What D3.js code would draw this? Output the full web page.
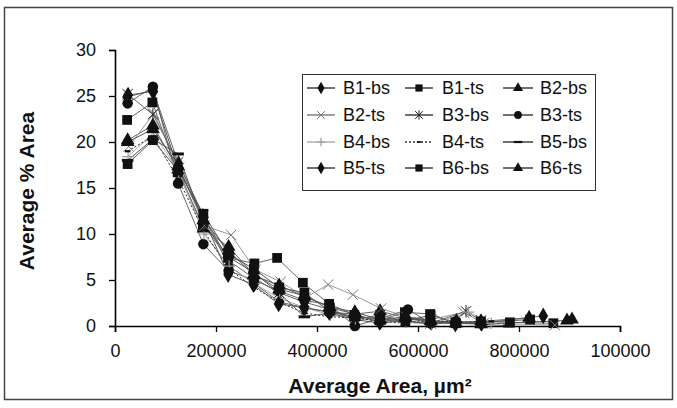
<!DOCTYPE html>
<html>
<head>
<meta charset="utf-8">
<script src="https://cdn.jsdelivr.net/npm/d3@7"></script>
<style>
  body { margin: 0; background: #fff; }
  svg { display: block; font-family: "Liberation Sans", Arial, sans-serif; }
</style>
</head>
<body>
<svg id="chart" width="677" height="408"></svg>
<script>
// ---- data ----
const seriesNames = ["B1-bs","B1-ts","B2-bs","B2-ts","B3-bs","B3-ts","B4-bs","B4-ts","B5-bs","B5-ts","B6-bs","B6-ts"];

const B1_bs_x = [26000,76000,126000,176000,226000,276000,326000,376000,426000,476000,526000,576000,626000,676000,726000,848000];
const B1_bs_y = [25.1,25.5,17.6,11.8,6.5,4.6,2.6,2.0,1.5,0.9,0.5,0.8,0.4,0.5,0.3,1.1];
const B1_ts_x = [24000,74000,124000,174000,224000,276000,321000,372000,424000,474000,524000,574000,624000,674000,724000,782000,868000];
const B1_ts_y = [22.4,24.3,16.7,11.0,7.4,6.8,7.4,4.7,2.4,1.2,0.6,1.5,1.3,0.4,0.5,0.4,0.3];
const B2_bs_x = [25000,75000,125000,175000,225000,275000,325000,375000,425000,475000,525000,575000,625000,675000,725000,820000];
const B2_bs_y = [20.2,21.8,17.0,10.6,8.6,5.6,4.0,3.3,2.0,1.3,1.6,0.9,0.6,0.3,0.5,0.9];
const B2_ts_x = [27000,77000,127000,177000,230000,278000,328000,378000,422000,471000,527000,577000,627000,690000,730000,871000];
const B2_ts_y = [19.5,23.1,17.2,10.9,9.9,6.1,4.8,3.1,4.5,3.4,1.9,1.0,0.7,1.5,0.3,0.1];
const B3_bs_x = [25000,75000,125000,175000,225000,275000,325000,375000,425000,475000,525000,575000,625000,695000,725000];
const B3_bs_y = [25.2,23.0,17.8,12.0,7.1,5.2,3.6,2.6,1.8,0.7,1.2,0.5,0.3,1.6,0.6];
const B3_ts_x = [25000,75000,125000,175000,225000,275000,325000,375000,425000,475000,525000,580000,625000,675000];
const B3_ts_y = [24.2,26.0,15.5,8.9,6.0,5.0,3.8,2.8,2.3,0.0,0.8,1.8,0.3,0.5];
const B4_bs_x = [26000,76000,126000,176000,226000,276000,326000,376000,426000,476000,526000,576000,626000,700000,745000];
const B4_bs_y = [18.4,21.0,16.8,10.0,6.5,4.6,3.0,2.0,1.2,0.8,0.6,0.4,0.2,1.5,0.3];
const B4_ts_x = [25000,75000,125000,175000,225000,275000,325000,375000,425000,475000,525000,575000,625000,675000,745000];
const B4_ts_y = [19.0,20.6,16.0,10.4,6.2,4.2,2.6,1.4,1.0,0.9,0.5,0.3,0.6,0.4,0.5];
const B5_bs_x = [25000,75000,125000,175000,225000,275000,325000,375000,425000,475000,525000,575000,625000,675000,780000];
const B5_bs_y = [18.0,20.3,18.7,11.2,7.5,5.8,3.6,1.0,1.4,0.7,0.3,0.6,0.2,0.4,0.0];
const B5_ts_x = [24000,74000,124000,174000,224000,274000,324000,374000,424000,474000,524000,574000,624000,674000,724000];
const B5_ts_y = [24.9,25.6,17.2,11.9,5.6,4.5,2.4,2.0,1.5,1.3,0.4,0.9,0.5,0.2,0.4];
const B6_bs_x = [25000,75000,125000,175000,225000,275000,325000,375000,425000,475000,525000,575000,625000,675000,725000,822000];
const B6_bs_y = [17.6,20.2,16.9,12.2,7.8,6.2,4.2,3.6,1.6,1.0,0.8,0.5,1.2,0.3,0.4,0.7];
const B6_ts_x = [25000,75000,125000,175000,225000,275000,325000,375000,425000,475000,525000,575000,625000,675000,725000,895000,905000];
const B6_ts_y = [20.0,21.4,17.4,11.5,8.2,5.5,4.4,3.2,2.1,1.5,0.7,1.0,0.6,0.3,0.2,0.6,0.7];

const xTickValues = [0,200000,400000,600000,800000,1000000];
const xTickLabels = ["0","200000","400000","600000","800000","100000"];
const yTickValues = [0,5,10,15,20,25,30];

const xTitle = "Average Area, µm²";
const yTitle = "Average % Area";

// ---- styles per series ----
const seriesX = [B1_bs_x,B1_ts_x,B2_bs_x,B2_ts_x,B3_bs_x,B3_ts_x,B4_bs_x,B4_ts_x,B5_bs_x,B5_ts_x,B6_bs_x,B6_ts_x];
const seriesY = [B1_bs_y,B1_ts_y,B2_bs_y,B2_ts_y,B3_bs_y,B3_ts_y,B4_bs_y,B4_ts_y,B5_bs_y,B5_ts_y,B6_bs_y,B6_ts_y];
const markerType = ["diamond","square","triangle","x","star","circle","plus","smalldash","dash","diamond","square","triangle"];
const lineColor = ["#666","#666","#666","#999","#666","#666","#aaa","#222","#555","#555","#555","#555"];
const lineDash = [null,null,null,null,null,null,null,"2,2",null,null,null,null];

const svg = d3.select("#chart");

// outer border
svg.append("rect").attr("x",4.5).attr("y",7.5).attr("width",668).attr("height",392)
  .attr("fill","#fff").attr("stroke","#444").attr("stroke-width",1.5);

const x = d3.scaleLinear().domain([0,1000000]).range([115,620]);
const y = d3.scaleLinear().domain([0,30]).range([326,50]);

// axes
const xAxis = d3.axisBottom(x).tickValues(xTickValues).tickSize(6).tickPadding(12)
  .tickFormat((d,i)=>xTickLabels[i]);
const gx = svg.append("g").attr("transform","translate(0,326)").call(xAxis);
gx.select(".domain").attr("stroke","#000").attr("stroke-width",1.6);
gx.selectAll(".tick line").attr("stroke","#000").attr("stroke-width",1.3);
gx.selectAll(".tick text").attr("font-size",18).attr("fill","#111")
  .attr("font-family","'Liberation Sans', Arial, sans-serif");

const yAxis = d3.axisLeft(y).tickValues(yTickValues).tickSize(6).tickPadding(13);
const gy = svg.append("g").attr("transform","translate(115,0)").call(yAxis);
gy.select(".domain").attr("stroke","#000").attr("stroke-width",1.6);
gy.selectAll(".tick line").attr("stroke","#000").attr("stroke-width",1.3);
gy.selectAll(".tick text").attr("font-size",18).attr("fill","#111")
  .attr("font-family","'Liberation Sans', Arial, sans-serif");

// titles
svg.append("text").attr("x",380).attr("y",393).attr("text-anchor","middle")
  .attr("font-size",21).attr("font-weight","bold").attr("fill","#111").text(xTitle);
svg.append("text").attr("transform","translate(34,191) rotate(-90)").attr("text-anchor","middle")
  .attr("font-size",21).attr("font-weight","bold").attr("fill","#111").text(yTitle);

// marker drawing
function drawMarker(g, type, cx, cy, scale) {
  const s = scale;
  if (type === "diamond") {
    g.append("path").attr("d", d3.symbol(d3.symbolDiamond, 62*s*s)()).attr("transform",`translate(${cx},${cy})`).attr("fill","#111");
  } else if (type === "square") {
    g.append("path").attr("d", d3.symbol(d3.symbolSquare, 72*s*s)()).attr("transform",`translate(${cx},${cy})`).attr("fill","#111");
  } else if (type === "triangle") {
    g.append("path").attr("d", d3.symbol(d3.symbolTriangle, 62*s*s)()).attr("transform",`translate(${cx},${cy})`).attr("fill","#111");
  } else if (type === "circle") {
    g.append("circle").attr("cx",cx).attr("cy",cy).attr("r",4.6*s).attr("fill","#111");
  } else if (type === "x") {
    const r = 4.5*s;
    g.append("path").attr("d",`M${cx-r},${cy-r}L${cx+r},${cy+r}M${cx-r},${cy+r}L${cx+r},${cy-r}`)
      .attr("stroke","#777").attr("stroke-width",1).attr("fill","none");
  } else if (type === "star") {
    const r = 4.5*s;
    g.append("path").attr("d",`M${cx-r},${cy-r}L${cx+r},${cy+r}M${cx-r},${cy+r}L${cx+r},${cy-r}M${cx},${cy-r*1.2}L${cx},${cy+r*1.2}`)
      .attr("stroke","#222").attr("stroke-width",1).attr("fill","none");
  } else if (type === "plus") {
    const r = 5*s;
    g.append("path").attr("d",`M${cx-r},${cy}L${cx+r},${cy}M${cx},${cy-r}L${cx},${cy+r}`)
      .attr("stroke","#999").attr("stroke-width",1.2).attr("fill","none");
  } else if (type === "dash") {
    g.append("rect").attr("x",cx-5*s).attr("y",cy-1.3*s).attr("width",10*s).attr("height",2.6*s).attr("fill","#111");
  } else if (type === "smalldash") {
    g.append("rect").attr("x",cx-2.5*s).attr("y",cy-1*s).attr("width",5*s).attr("height",2*s).attr("fill","#111");
  }
}

const line = d3.line().x(d=>x(d[0])).y(d=>y(d[1]));
const plot = svg.append("g");
seriesNames.forEach((name,i)=>{
  const pts = seriesX[i].map((xv,j)=>[xv, seriesY[i][j]]);
  plot.append("path").datum(pts).attr("d",line).attr("fill","none")
    .attr("stroke",lineColor[i]).attr("stroke-width",1)
    .attr("stroke-dasharray",lineDash[i]);
});
seriesNames.forEach((name,i)=>{
  const g = plot.append("g");
  seriesX[i].forEach((xv,j)=>drawMarker(g, markerType[i], x(xv), y(seriesY[i][j]), 1.15));
});

// legend
const lg = svg.append("g");
lg.append("rect").attr("x",302.5).attr("y",74.5).attr("width",293).attr("height",116)
  .attr("fill","#fff").attr("stroke","#333").attr("stroke-width",1);
const colLineX = [[307,335],[405,433],[503,533]];
const colTextX = [343,442,540];
const rowY = [88,115,142,168];
seriesNames.forEach((name,i)=>{
  const r = Math.floor(i/3), c = i%3;
  const yy = rowY[r];
  lg.append("line").attr("x1",colLineX[c][0]).attr("x2",colLineX[c][1]).attr("y1",yy).attr("y2",yy)
    .attr("stroke", i===6 ? "#aaa" : (i===3 ? "#777" : "#333")).attr("stroke-width",1.4)
    .attr("stroke-dasharray",lineDash[i]);
  drawMarker(lg, markerType[i], (colLineX[c][0]+colLineX[c][1])/2, yy, 0.85);
  lg.append("text").attr("x",colTextX[c]).attr("y",yy).attr("dy","0.35em")
    .attr("font-size",18).attr("fill","#111").text(name);
});
</script>
</body>
</html>
